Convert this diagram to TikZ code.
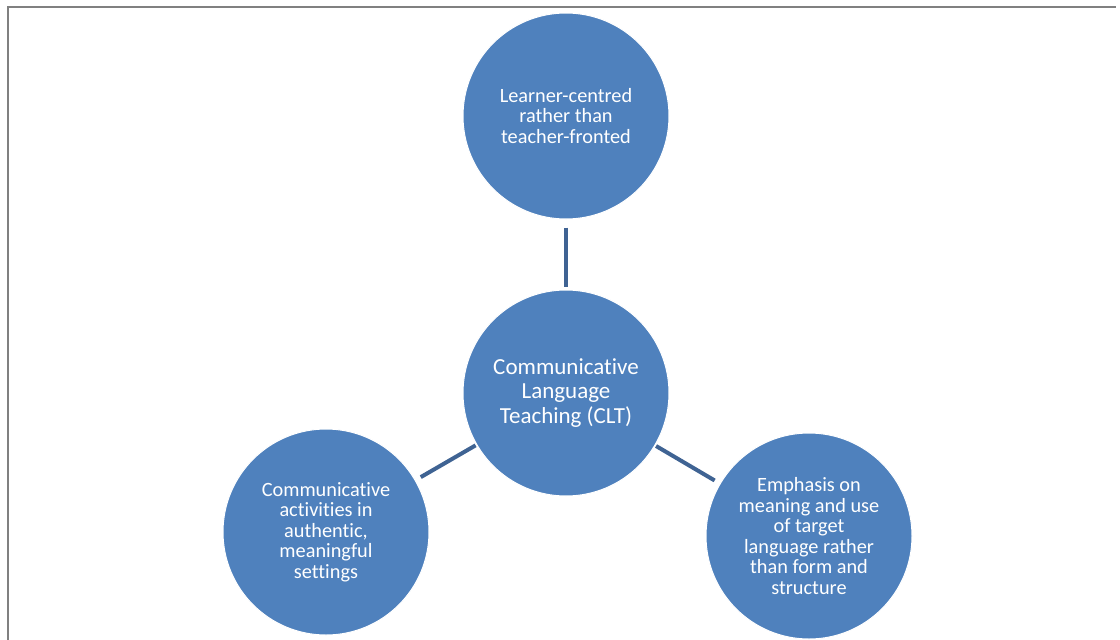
\documentclass[tikz,border=0pt]{standalone}
\usepackage{fontspec}
\setmainfont{Carlito}[RawFeature={-liga;-clig;-dlig}]
\begin{document}
\begin{tikzpicture}[x=1pt,y=-1pt,
  bubble/.style={circle, fill=bubbleblue, draw=white, line width=1pt,
    minimum size=206pt, inner sep=0pt, text=white, align=center,
    font=\fontsize{20.3}{20.5}\selectfont},
  hub/.style={bubble, font=\fontsize{23}{24.5}\selectfont},
  link/.style={draw=linkblue, line width=4pt}]
  \definecolor{bubbleblue}{HTML}{4F81BD}
  \definecolor{linkblue}{HTML}{3F6393}
  \definecolor{frame}{HTML}{808080}
  \useasboundingbox (0,0) rectangle (1120,640);
  \fill[white] (0,0) rectangle (1120,640);
  % page frame
  \draw[frame, line width=2pt] (8,640) -- (8,7) -- (1116,7);

  \node[hub] (clt) at (566,393) {Communicative\\Language\\Teaching (CLT)};
  \node[bubble] (learner) at (566,116) {Learner-centred\\rather than\\teacher-fronted};
  \node[bubble] (activities) at (326,532) {Communicative\\activities in\\authentic,\\meaningful\\settings};
  \node[bubble] (emphasis) at (809,536) {Emphasis on\\meaning and use\\of target\\language rather\\than form and\\structure};

  \draw[link, shorten <=8pt, shorten >=3pt] (learner) -- (clt);
  \draw[link, shorten <=6pt, shorten >=1pt] (activities) -- (clt);
  \draw[link, shorten <=6pt, shorten >=1pt] (emphasis) -- (clt);
\end{tikzpicture}
\end{document}
